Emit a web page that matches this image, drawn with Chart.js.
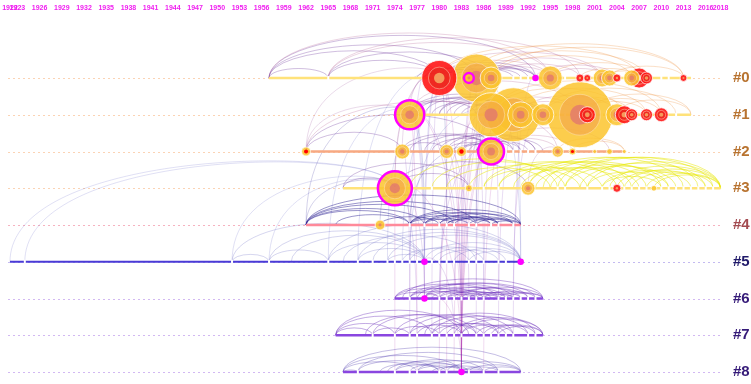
<!DOCTYPE html>
<html>
<head>
<meta charset="utf-8">
<script src="https://cdn.jsdelivr.net/npm/chart.js@4.4.0/dist/chart.umd.min.js"></script>
<style>
  html, body { margin: 0; padding: 0; background: #fff; }
  #wrap { width: 751px; height: 384px; }
</style>
</head>
<body>
<div id="wrap"><canvas id="timeline"></canvas></div>
<script>
// Données : axe des années
const TICK_YEARS = [1922, 1923, 1926, 1929, 1932, 1935, 1938, 1941, 1944, 1947, 1950, 1953, 1956, 1959,
  1962, 1965, 1968, 1971, 1974, 1977, 1980, 1983, 1986, 1989, 1992, 1995, 1998, 2001, 2004, 2007,
  2010, 2013, 2016, 2018];

// Clusters
const CLUSTER_LABELS = ['#0', '#1', '#2', '#3', '#4', '#5', '#6', '#7', '#8'];
const CLUSTER_START = [1957, 1976, 1962, 1967, 1962, 1922, 1974, 1966, 1967];
const CLUSTER_END = [2014, 2014, 2005, 2018, 1991, 1991, 1994, 1994, 1991];

// Petits articles sur chaque ligne (coupures blanches)
const MINOR_YEARS = [
  [1965, 1990, 1991, 1992, 1996, 1997, 2010, 2011],
  [1992, 1993, 1996, 1997, 2001, 2002, 2012],
  [1988, 1989, 1990, 1991, 1992, 1993],
  [1979, 1986, 1988, 1996, 1997, 2000, 2002, 2003, 2005, 2006, 2007, 2008, 2010, 2011, 2012, 2013, 2014, 2015, 2016, 2017],
  [1976, 1978, 1980, 1981, 1982, 1984, 1985, 1987, 1988, 1990],
  [1924, 1952, 1957, 1965, 1969, 1971, 1973, 1974, 1975, 1976, 1977, 1979, 1980, 1981, 1982, 1984, 1985, 1986, 1988, 1989],
  [1976, 1980, 1981, 1982, 1983, 1984, 1985, 1986, 1988, 1989, 1990, 1991, 1992, 1993],
  [1971, 1974, 1976, 1977, 1979, 1980, 1981, 1982, 1983, 1985, 1986, 1987, 1988, 1989, 1990, 1992, 1993],
  [1969, 1974, 1976, 1977, 1980, 1981, 1984, 1986, 1988]
];

// Références citées (noeuds)
const NODE_CLUSTER = [
  0, 0, 0, 0, 0, 0, 0, 0, 0, 0, 0, 0, 0, 0, 0,
  1, 1, 1, 1, 1, 1, 1, 1, 1, 1, 1, 1,
  2, 2, 2, 2, 2, 2, 2, 2, 2, 2,
  3, 3, 3, 3, 3,
  4, 5, 5, 6, 8
];
const NODE_YEAR = [
  1980, 1985, 1984, 1987, 1993, 1995, 1999, 2000, 2002, 2003, 2004, 2006, 2007, 2008, 2013,
  1976, 1987, 1990, 1991, 1994, 1999, 2000, 2004, 2005, 2006, 2008, 2010,
  1962, 1975, 1981, 1983, 1987, 1996, 1998, 2001, 2003, 2005,
  1974, 1984, 1992, 2004, 2009,
  1972, 1978, 1991, 1978, 1983
];
const NODE_CITES = [
  77, 144, 6, 30, 1, 36, 4, 3, 20, 16, 4, 16, 25, 9, 3,
  53, 121, 182, 42, 30, 272, 16, 30, 20, 9, 9, 12,
  5, 14, 12, 6, 42, 8, 3, 1, 2, 1,
  72, 3, 12, 4, 2,
  6, 1, 1, 1, 1
];
// 0 = aucun, 1 = burst, 2 = burst au centre
const NODE_BURST = [
  1, 0, 0, 0, 0, 0, 1, 1, 0, 0, 1, 0, 1, 1, 1,
  0, 0, 0, 0, 0, 0, 1, 0, 1, 1, 1, 1,
  2, 0, 0, 2, 0, 0, 2, 0, 0, 0,
  0, 0, 0, 1, 0,
  0, 0, 0, 0, 0
];
const NODE_CENTRAL = [
  0, 0, 1, 0, 1, 0, 0, 0, 0, 0, 0, 0, 0, 0, 0,
  1, 0, 0, 0, 0, 0, 0, 0, 0, 0, 0, 0,
  0, 0, 0, 0, 1, 0, 0, 0, 0, 0,
  1, 0, 0, 0, 0,
  0, 1, 1, 1, 1
];

// Co-citations dans chaque cluster [de, à]
const ARCS_0 = [[1957, 1965], [1957, 1980], [1957, 1985], [1957, 1993], [1957, 1995], [1965, 1980], [1965, 1987],
  [1965, 1995], [1965, 1999], [1977, 1985], [1980, 1985], [1980, 1987], [1980, 1995], [1980, 2002], [1980, 2007],
  [1984, 2013], [1985, 1995], [1985, 2002], [1985, 2008], [1987, 2013], [1987, 1999], [1987, 2006], [1993, 2004],
  [1995, 2003], [1995, 2008], [1999, 2007], [2002, 2008], [2003, 2013], [1984, 1993], [1982, 1990],
  [1978, 1987], [1980, 1993], [1981, 1992], [1985, 1993], [1983, 1991]];
const ARCS_1 = [[1976, 1987], [1976, 1990], [1976, 1999], [1978, 1990], [1981, 1991], [1983, 1990], [1985, 1992],
  [1987, 1999], [1987, 2005], [1990, 1999], [1990, 2008], [1991, 2004], [1994, 2006], [1999, 2008], [1999, 2010],
  [2000, 2014], [2004, 2014], [1987, 2010], [1994, 2012], [1980, 1993], [1979, 1987],
  [1976, 1985], [1977, 1989], [1980, 1990], [1982, 1992], [1984, 1994], [1986, 1993], [1987, 1994]];
const ARCS_2 = [[1962, 1975], [1962, 1987], [1962, 1996], [1975, 1981], [1975, 1987], [1981, 1987], [1983, 1990],
  [1979, 1988], [1985, 1992], [1987, 1996], [1987, 1998], [1987, 2003], [1996, 2005], [1998, 2005], [1981, 1993],
  [1984, 1991], [1976, 1987], [1978, 1990], [1980, 1991], [1982, 1993], [1985, 1994], [1983, 1988]];
const ARCS_3 = [[1967, 1974], [1967, 1984], [1974, 1984], [1974, 1992], [1976, 1996], [1979, 1997], [1984, 2000],
  [1986, 2004], [1988, 2006], [1990, 2008], [1992, 2010], [1992, 2013], [1994, 2015], [1996, 2017], [1997, 2018],
  [1999, 2016], [2000, 2018], [2002, 2014], [2003, 2018], [2004, 2016], [2005, 2018], [2006, 2017], [2008, 2018],
  [1986, 1999], [1988, 2002], [1995, 2011], [1997, 2012], [2000, 2011], [1981, 1995], [1993, 2007], [2009, 2018],
  [2002, 2010], [1991, 2005]];
const ARCS_4 = [[1962, 1976], [1962, 1978], [1962, 1982], [1962, 1985], [1962, 1991], [1966, 1976], [1972, 1980],
  [1976, 1982], [1976, 1985], [1976, 1988], [1978, 1984], [1978, 1987], [1980, 1988], [1980, 1991], [1981, 1987],
  [1982, 1990], [1984, 1990], [1985, 1991], [1987, 1991], [1976, 1991], [1978, 1990], [1981, 1988]];
const ARCS_5 = [[1952, 1957], [1957, 1965], [1957, 1978], [1952, 1978], [1965, 1978], [1965, 1991], [1969, 1978],
  [1969, 1991], [1971, 1991], [1973, 1978], [1973, 1991], [1975, 1984], [1976, 1986], [1978, 1991], [1979, 1989],
  [1980, 1988], [1982, 1991], [1984, 1991], [1960, 1978], [1967, 1985]];
const ARCS_6 = [[1974, 1980], [1974, 1984], [1974, 1988], [1976, 1983], [1976, 1986], [1976, 1990], [1978, 1985],
  [1978, 1989], [1978, 1993], [1980, 1986], [1980, 1991], [1981, 1988], [1982, 1992], [1983, 1989], [1983, 1994],
  [1984, 1990], [1985, 1991], [1986, 1993], [1988, 1994], [1989, 1994], [1975, 1994], [1977, 1992], [1979, 1987],
  [1981, 1985], [1984, 1988], [1986, 1990]];
const ARCS_7 = [[1966, 1971], [1966, 1974], [1966, 1979], [1966, 1983], [1971, 1976], [1971, 1985], [1974, 1980],
  [1974, 1988], [1976, 1983], [1976, 1990], [1977, 1985], [1979, 1986], [1979, 1992], [1980, 1988], [1981, 1989],
  [1982, 1994], [1983, 1990], [1985, 1992], [1986, 1993], [1987, 1994], [1988, 1994], [1978, 1993], [1983, 1994],
  [1970, 1984]];
const ARCS_8 = [[1967, 1969], [1967, 1977], [1967, 1983], [1967, 1991], [1969, 1980], [1969, 1988], [1973, 1983],
  [1974, 1981], [1974, 1986], [1976, 1984], [1977, 1983], [1977, 1988], [1980, 1986], [1981, 1991], [1983, 1988],
  [1984, 1991], [1986, 1991], [1972, 1980], [1979, 1984], [1983, 1986]];
const CLUSTER_ARCS = [ARCS_0, ARCS_1, ARCS_2, ARCS_3, ARCS_4, ARCS_5, ARCS_6, ARCS_7, ARCS_8];

// Liens entre clusters [cluster, année, cluster, année]
const CROSS_LINKS = [
  [8, 1983, 0, 1980], [8, 1983, 0, 1985], [8, 1983, 1, 1987], [8, 1983, 1, 1990], [8, 1983, 2, 1987],
  [8, 1983, 2, 1981], [8, 1983, 1, 1976], [8, 1983, 6, 1978], [8, 1983, 3, 1974], [8, 1983, 0, 1987],
  [8, 1983, 2, 1983], [8, 1982, 1, 1985], [8, 1981, 0, 1981], [8, 1977, 1, 1976], [8, 1974, 3, 1974],
  [8, 1986, 1, 1990], [8, 1980, 4, 1981],
  [7, 1979, 0, 1980], [7, 1983, 1, 1976], [7, 1980, 2, 1983], [7, 1985, 0, 1985], [7, 1977, 3, 1974],
  [7, 1988, 1, 1991], [7, 1982, 5, 1978], [7, 1986, 2, 1987], [7, 1976, 0, 1978], [7, 1990, 0, 1993],
  [6, 1978, 0, 1980], [6, 1978, 1, 1976], [6, 1980, 2, 1987], [6, 1983, 0, 1985], [6, 1985, 1, 1987],
  [6, 1978, 3, 1974], [6, 1982, 1, 1990], [6, 1976, 2, 1975], [6, 1988, 0, 1987], [6, 1990, 1, 1994],
  [6, 1984, 2, 1981], [6, 1986, 0, 1984],
  [5, 1978, 0, 1980], [5, 1978, 1, 1976], [5, 1991, 1, 1990], [5, 1991, 0, 1985], [5, 1922, 3, 1974],
  [5, 1924, 3, 1974], [5, 1952, 3, 1974], [5, 1957, 3, 1974], [5, 1965, 1, 1976], [5, 1969, 0, 1980],
  [5, 1973, 2, 1975], [5, 1976, 1, 1987], [5, 1975, 0, 1985],
  [4, 1962, 3, 1974], [4, 1972, 3, 1974], [4, 1976, 2, 1987], [4, 1981, 0, 1980], [4, 1978, 1, 1976],
  [4, 1962, 1, 1976], [4, 1985, 1, 1987],
  [3, 1974, 1, 1976], [3, 1974, 0, 1980], [2, 1975, 0, 1980], [2, 1987, 0, 1985], [2, 1983, 1, 1990],
  [1, 1976, 0, 1980], [2, 1962, 1, 1976], [3, 1984, 1, 1987], [3, 1992, 2, 1996], [2, 1962, 0, 1980]
];

// Styles
const TICK_COLOR = '#f020f0';
const GUIDE_COLORS = ['#fbd3b4', '#fbd3b4', '#fbd3b4', '#fbd3b4', '#f6b2c0', '#c4baf0', '#d2b8f2', '#d2b8f2', '#d2b8f2'];
const LINE_COLORS = ['#ffe27a', '#ffe27a', '#f7a982', '#ffe27a', '#ff8a9a', '#4a3ad6', '#8a46e0', '#8a46e0', '#8a46e0'];
const LABEL_COLORS = ['#b87330', '#b87330', '#b87330', '#b87330', '#a34a50', '#201a6a', '#351a78', '#351a78', '#351a78'];
const ARC_COLORS = ['', '', '', '', 'rgba(30,20,140,0.45)', 'rgba(90,90,190,0.25)', 'rgba(105,45,185,0.4)',
  'rgba(105,45,185,0.4)', 'rgba(70,50,170,0.32)'];
const ARC_RISE = [0.16, 0.2, 0.2, 0.2, 0.14, 0.2, 0.14, 0.2, 0.14];

const radiusOf = c => 2 * Math.sqrt(c);

function arcColor(cluster, endYear) {
  if (cluster >= 4) return ARC_COLORS[cluster];
  if (cluster === 3) return endYear >= 1995 ? 'rgba(232,232,0,0.5)' : 'rgba(100,40,150,0.3)';
  if (endYear < 1995) return 'rgba(100,40,150,0.3)';
  if (endYear < 2005) return 'rgba(175,85,140,0.25)';
  return 'rgba(240,150,70,0.3)';
}

function linkColor(cluster) {
  if (cluster === 8) return 'rgba(170,50,170,0.18)';
  if (cluster >= 6) return 'rgba(130,60,190,0.18)';
  if (cluster === 5) return 'rgba(100,100,200,0.2)';
  if (cluster === 4) return 'rgba(40,30,150,0.2)';
  return 'rgba(150,70,150,0.2)';
}

// Fond : lignes du temps, arcs, liens
const timelinePlugin = {
  id: 'timeline',
  beforeDatasetsDraw(chart) {
    const { ctx, chartArea, scales: { x, y } } = chart;
    ctx.save();

    ctx.lineWidth = 1;
    ctx.setLineDash([2, 3]);
    CLUSTER_LABELS.forEach((_, i) => {
      const py = Math.round(y.getPixelForValue(i)) + 0.5;
      ctx.strokeStyle = GUIDE_COLORS[i];
      ctx.beginPath();
      ctx.moveTo(chartArea.left - 2, py);
      ctx.lineTo(chartArea.right, py);
      ctx.stroke();
    });
    ctx.setLineDash([]);

    CROSS_LINKS.forEach(([c1, y1, c2, y2]) => {
      const xa = x.getPixelForValue(y1), ya = y.getPixelForValue(c1);
      const xb = x.getPixelForValue(y2), yb = y.getPixelForValue(c2);
      const top = Math.min(ya, yb) - 0.1 * Math.abs(xb - xa) - 6;
      ctx.strokeStyle = linkColor(c1);
      ctx.beginPath();
      ctx.moveTo(xa, ya);
      ctx.bezierCurveTo(xa, top, xb, top, xb, yb);
      ctx.stroke();
    });

    CLUSTER_ARCS.forEach((arcs, i) => {
      const py = y.getPixelForValue(i);
      arcs.forEach(([a, b]) => {
        const xa = x.getPixelForValue(a), xb = x.getPixelForValue(b);
        const rx = (xb - xa) / 2;
        ctx.strokeStyle = arcColor(i, b);
        ctx.beginPath();
        ctx.ellipse(xa + rx, py, rx, 2 * rx * ARC_RISE[i], 0, Math.PI, 2 * Math.PI);
        ctx.stroke();
      });
    });

    CLUSTER_LABELS.forEach((_, i) => {
      const py = y.getPixelForValue(i);
      ctx.strokeStyle = LINE_COLORS[i];
      ctx.lineWidth = i === 5 ? 2 : 2.5;
      ctx.beginPath();
      ctx.moveTo(x.getPixelForValue(CLUSTER_START[i]), py);
      ctx.lineTo(x.getPixelForValue(CLUSTER_END[i]), py);
      ctx.stroke();
      ctx.fillStyle = '#ffffff';
      MINOR_YEARS[i].forEach(yr => {
        ctx.fillRect(x.getPixelForValue(yr) - 1, py - 2, 2, 4);
      });
    });
    ctx.restore();
  },
  afterDraw(chart) {
    const { ctx, chartArea, scales: { y } } = chart;
    ctx.save();
    ctx.font = 'bold 15px "Liberation Sans", Arial, sans-serif';
    ctx.textBaseline = 'middle';
    CLUSTER_LABELS.forEach((label, i) => {
      ctx.fillStyle = LABEL_COLORS[i];
      ctx.fillText(label, chartArea.right + 11, y.getPixelForValue(i));
    });
    ctx.restore();
  }
};

// Un jeu de données par noeud : anneau extérieur, anneau médian, coeur
function nodeDataset(i) {
  const r = radiusOf(NODE_CITES[i]);
  const px = NODE_YEAR[i], py = NODE_CLUSTER[i];
  const burst = NODE_BURST[i], central = NODE_CENTRAL[i];
  let outer = burst === 1 ? 'rgba(255,22,22,0.9)' : 'rgba(252,196,45,0.85)';
  if (central && NODE_CITES[i] <= 1) outer = '#ff00ff';
  const mid = burst === 1 ? 'rgba(232,40,30,0.7)' : 'rgba(243,160,75,0.55)';
  let core = burst === 1 ? 'rgba(246,160,95,0.95)' : 'rgba(226,120,110,0.8)';
  let coreR = r * 0.3;
  if (burst === 2) { core = '#ff0000'; coreR = r * 0.45; }
  return {
    clip: false,
    data: [
      { x: px, y: py, r: r },
      { x: px, y: py, r: r * 0.62 },
      { x: px, y: py, r: coreR }
    ],
    backgroundColor: [outer, r >= 5 ? mid : 'rgba(0,0,0,0)', r >= 3 ? core : 'rgba(0,0,0,0)'],
    borderColor: [central ? '#ff00ff' : 'rgba(255,255,255,0.75)', 'rgba(255,235,200,0.45)', 'rgba(0,0,0,0)'],
    borderWidth: [central ? 2.5 : 1, r >= 5 ? 1 : 0, 0]
  };
}

const nodeOrder = NODE_YEAR.map((_, i) => i).sort((a, b) => NODE_CITES[a] - NODE_CITES[b]);

new Chart(document.getElementById('timeline'), {
  type: 'bubble',
  data: { datasets: nodeOrder.map(nodeDataset) },
  options: {
    responsive: true,
    maintainAspectRatio: false,
    animation: false,
    events: [],
    layout: { autoPadding: false, padding: { left: 10, right: 29, top: 2, bottom: 0 } },
    plugins: { legend: { display: false }, tooltip: { enabled: false } },
    scales: {
      x: {
        type: 'linear',
        position: 'top',
        min: 1922,
        max: 2018.2,
        afterBuildTicks: scale => { scale.ticks = TICK_YEARS.map(v => ({ value: v })); },
        grid: { display: false, drawTicks: false },
        border: { display: false },
        ticks: {
          autoSkip: false,
          maxRotation: 0,
          padding: 2,
          color: TICK_COLOR,
          font: { family: '"Liberation Sans", Arial, sans-serif', size: 7, weight: 'bold' },
          callback: v => String(v)
        }
      },
      y: {
        type: 'linear',
        display: false,
        reverse: true,
        min: -1.73,
        max: 8.325
      }
    }
  },
  plugins: [timelinePlugin]
});
</script>
</body>
</html>
